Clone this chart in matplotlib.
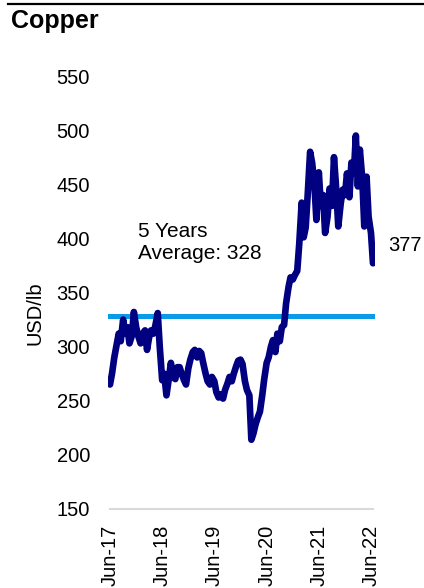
import matplotlib
matplotlib.use("Agg")
import matplotlib.pyplot as plt
import pandas as pd

plt.rcParams["font.family"] = ["Liberation Sans", "DejaVu Sans"]

# Copper price, semi-monthly observations (USD/lb, shown in cents)
start_date = "2017-06-01"
end_date = "2022-06-15"
copper = [
    265, 275, 290, 300, 312, 305, 325, 312, 318, 303, 310, 332,   # Jun-17 .. Nov-17
    318, 310, 303, 312, 315, 297, 308, 315, 312, 320, 331, 300,   # Dec-17 .. May-18
    269, 275, 255, 268, 285, 272, 270, 281, 281, 275, 269, 265,   # Jun-18 .. Nov-18
    280, 288, 295, 297, 290, 296, 294, 285, 275, 268, 265, 272,   # Dec-18 .. May-19
    268, 258, 253, 256, 252, 260, 266, 272, 268, 275, 282, 287,   # Jun-19 .. Nov-19
    288, 284, 268, 260, 255, 214, 220, 228, 235, 240, 255, 270,   # Dec-19 .. May-20
    285, 290, 300, 306, 295, 312, 305, 318, 320, 340, 355, 364,   # Jun-20 .. Nov-20
    362, 366, 370, 395, 433, 401, 410, 440, 480, 470, 450, 417,   # Dec-20 .. May-21
    461, 430, 440, 405, 420, 446, 430, 475, 445, 411, 432, 445,   # Jun-21 .. Nov-21
    440, 460, 438, 470, 460, 495, 448, 482, 455, 411, 457, 420,   # Dec-21 .. May-22
    405, 377,                                                     # Jun-22
]
average_5y = 328
tick_dates = ["2017-06-01", "2018-06-01", "2019-06-01",
              "2020-06-01", "2021-06-01", "2022-06-01"]
tick_labels = ["Jun-17", "Jun-18", "Jun-19", "Jun-20", "Jun-21", "Jun-22"]
y_ticks = [150, 200, 250, 300, 350, 400, 450, 500, 550]

dates = pd.date_range(start_date, end_date, freq="SMS")
series = pd.Series(copper, index=dates[: len(copper)])

W, H = 424, 588
fig = plt.figure(figsize=(W / 100, H / 100), dpi=100)
ax = fig.add_axes([108 / W, 1 - 509 / H, (375 - 108) / W, (509 - 76) / H])

navy = "#000080"
avg_blue = "#0A9BE8"

ax.plot(series.index, series.values, color=navy, lw=4.8,
        solid_joinstyle="round", solid_capstyle="round", zorder=3)
ax.axhline(average_5y, color=avg_blue, lw=3.6, zorder=2)

ax.set_ylim(150, 550)
ax.set_xlim(pd.Timestamp("2017-05-18"), pd.Timestamp("2022-06-29"))
ax.set_yticks(y_ticks)
ax.set_xticks(pd.to_datetime(tick_dates))
ax.set_xticklabels(tick_labels, rotation=90)
ax.tick_params(axis="both", length=0, labelsize=14.5, colors="black")
ax.tick_params(axis="y", pad=13)
ax.tick_params(axis="x", pad=11)

for s in ["top", "right", "left", "bottom"]:
    ax.spines[s].set_visible(False)
ax.hlines(150, pd.Timestamp("2017-05-25"), pd.Timestamp("2022-06-20"),
          color="#d9d9d9", lw=1.5, clip_on=False, zorder=1)

fig.text(35 / W, 1 - 313 / H, "USD/lb", rotation=90, ha="center",
         va="center", fontsize=14.5)

ax.text(pd.Timestamp("2017-12-15"), 396, "5 Years\nAverage: 328",
        fontsize=15, ha="left", va="center", linespacing=1.2)
ax.annotate(f"{copper[-1]}", xy=(series.index[-1], copper[-1]),
            xytext=(15, 18), textcoords="offset pixels",
            ha="left", va="center", fontsize=14.5)

# title and rule above it
fig.text(11 / W, 1 - 28 / H, "Copper", fontsize=18, fontweight="bold",
         ha="left", va="baseline")
fig.add_artist(plt.Line2D([8 / W, 1], [1 - 4 / H, 1 - 4 / H],
                          color="black", lw=1.6))

fig.savefig("out.png", dpi=100)
